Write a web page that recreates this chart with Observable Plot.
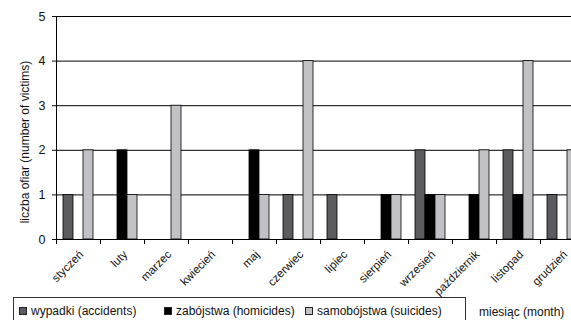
<!DOCTYPE html>
<html>
<head>
<meta charset="utf-8">
<script src="https://cdn.jsdelivr.net/npm/d3@7"></script>
<script src="https://cdn.jsdelivr.net/npm/@observablehq/plot@0.6"></script>
<style>
  html, body { margin: 0; padding: 0; background: #fff; overflow: hidden; width: 571px; height: 320px; }
  #chart { position: relative; width: 571px; height: 320px; overflow: hidden; font-family: "Liberation Sans", Arial, sans-serif; }
  #chart svg { position: absolute; left: 0; top: 0; }
  #legend { position: absolute; left: 13px; top: 297px; width: 453px; height: 30px; border: 1px solid #333; box-sizing: border-box; font-size: 12px; color: #111; background: #fff; }
  .item { position: absolute; top: 6px; white-space: nowrap; line-height: 14px; }
  .sw { display: inline-block; width: 6px; height: 6px; border: 1px solid #222; margin-right: 4px; vertical-align: 0px; }
  #xlabel { position: absolute; left: 479px; top: 305px; font-size: 12px; line-height: 14px; white-space: nowrap; color: #111; }
</style>
</head>
<body>
<div id="chart"></div>
<script>
const months = ["styczeń","luty","marzec","kwiecień","maj","czerwiec","lipiec","sierpień","wrzesień","październik","listopad","grudzień"];
const accidents = [1,0,0,0,0,1,1,0,2,0,2,1];
const homicides = [0,2,0,0,2,0,0,1,1,1,1,0];
const suicides  = [2,1,3,0,1,4,0,1,1,2,4,2];
const seriesNames = ["wypadki (accidents)","zabójstwa (homicides)","samobójstwa (suicides)"];
const seriesColors = ["#5b5b60","#000000","#c2c2c6"];
const yTicks = [0,1,2,3,4,5];
const yTitle = "liczba ofiar (number of victims)";
const xTitle = "miesiąc (month)";

const width = 571, height = 320, marginLeft = 56, marginRight = -13, marginTop = 16, marginBottom = 81;
const step = (width - marginLeft - marginRight) / months.length;
const barW = 10, groupPad = (step - 3 * barW) / 2;

const toRows = vals => months.map((m, i) => ({month: m, value: vals[i]})).filter(d => d.value > 0);
const seriesData = [accidents, homicides, suicides].map(toRows);

const barMarks = seriesData.map((rows, k) => Plot.barY(rows, {
  x: "month", y: "value", fill: seriesColors[k], stroke: "#000", strokeWidth: 0.8,
  insetLeft: groupPad + k * barW, insetRight: groupPad + (2 - k) * barW
}));

const plot = Plot.plot({
  width, height, marginLeft, marginRight, marginTop, marginBottom,
  style: {fontFamily: "'Liberation Sans', Arial, sans-serif", fontSize: "11px", overflow: "hidden", background: "#fff", color: "#111"},
  x: {type: "band", domain: months, paddingInner: 0, paddingOuter: 0, align: 0},
  y: {type: "linear", domain: [0, 5]},
  marks: [
    Plot.ruleY(yTicks.slice(1), {stroke: "#000", strokeWidth: 1}),
    ...barMarks,
    Plot.ruleY([0], {stroke: "#000"}),
    Plot.frame({anchor: "left", stroke: "#000"}),
    Plot.ruleX(months, {x: d => d, dx: -step / 2, y1: 0, y2: 0, insetBottom: -5, stroke: "#000"}),
    Plot.axisY({ticks: yTicks, tickSize: 4, tickPadding: 7, fontSize: 12.5, label: null, tickFormat: d => d}),
    Plot.axisX({tickSize: 0, tickRotate: -45, tickPadding: 13, dx: 3, fontSize: 11.5, label: null}),
    Plot.text([yTitle], {frameAnchor: "left", textAnchor: "middle", rotate: -90, dx: -31, dy: 14, fontSize: 12, fill: "#111"})
  ]
});

const chart = document.getElementById("chart");
chart.appendChild(plot);

const legend = document.createElement("div");
legend.id = "legend";
const itemLeft = [5, 150, 291];
seriesNames.forEach((name, k) => {
  const it = document.createElement("span");
  it.className = "item";
  it.style.left = itemLeft[k] + "px";
  const sw = document.createElement("span");
  sw.className = "sw";
  sw.style.background = seriesColors[k];
  it.appendChild(sw);
  it.appendChild(document.createTextNode(name));
  legend.appendChild(it);
});
chart.appendChild(legend);

const xl = document.createElement("div");
xl.id = "xlabel";
xl.textContent = xTitle;
chart.appendChild(xl);
</script>
</body>
</html>
